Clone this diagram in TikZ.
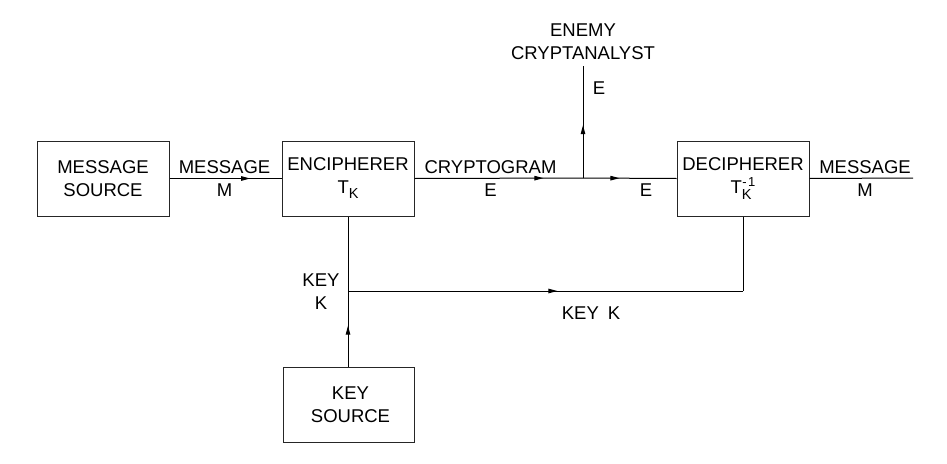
\documentclass[tikz,border=0pt]{standalone}
\usepackage{fontspec}
\setmainfont{Liberation Sans}
\usetikzlibrary{arrows.meta,decorations.markings}
\newcommand{\lblfont}{\fontsize{18.5}{23}\selectfont}
\newcommand{\subfont}{\fontsize{14.5}{14.5}\selectfont}
\tikzset{
  box/.style={draw=black!85, line width=1pt, minimum width=132pt, minimum height=75pt, inner sep=0pt, align=center, font=\lblfont},
  lbl/.style={align=center, inner sep=0pt, font=\lblfont},
  conn/.style={line width=1pt},
  midarrow/.style={postaction={decorate}, decoration={markings, mark=at position #1 with {\arrow{Stealth[length=9pt,width=4.5pt,inset=0pt]}}}}
}
\begin{document}
\begin{tikzpicture}[x=1pt,y=-1pt]
\useasboundingbox (0,0) rectangle (947,463);
% boxes
\node[box] (ms) at (103,178.5) {MESSAGE\\SOURCE};
\node[box] (enc) at (348,178.5) {ENCIPHERER\\T\raisebox{-5pt}{\subfont K}};
\node[box] (dec) at (743,178.5) {DECIPHERER\\T\rlap{\raisebox{-6.5pt}{\subfont K}}\raisebox{7pt}{\fontsize{13}{13}\selectfont \hspace{0.5pt}-\hspace{1.5pt}1}};
\node[box, minimum width=131pt] (ks) at (348.5,404.5) {\hspace{4pt}KEY\\\hspace{4pt}SOURCE};
\node[lbl, inner ysep=5.5pt] (enemy) at (583,42) {ENEMY\\CRYPTANALYST};
% coordinates
\coordinate (J) at (583,178);
\coordinate (out) at (913,178);
\coordinate (K) at (348,291);
\coordinate (KD) at (743,291);
% connectors
\draw[conn, midarrow=0.72] (ms.east) -- (enc.west);
\draw[conn, midarrow=0.765] (enc.east) -- (J);
\draw[conn, midarrow=0.39] (J) -- (dec.west);
\draw[conn, midarrow=0.47] (J) -- (J |- enemy.south);
\draw[conn] (dec.east) -- (out);
\draw[conn, midarrow=0.54] (ks.north -| K) -- (K);
\draw[conn] (K) -- (enc.south);
\draw[conn, midarrow=0.53] (K) -- (KD);
\draw[conn] (KD) -- (dec.south);
% labels
\node[lbl] (l1) at (224.5,178.5) {MESSAGE\\M};
\node[lbl] (l2) at (490.5,178.5) {CRYPTOGRAM\\E};
\node[lbl] (l3) at (646,190) {E};
\node[lbl] (l4) at (865,178.5) {MESSAGE\\M};
\node[lbl] (l5) at (599,88) {E};
\node[lbl] (l6) at (321,292) {KEY\\K};
\node[lbl] (l7) at (591,313) {KEY\hspace{9pt}K};
\end{tikzpicture}
\end{document}
